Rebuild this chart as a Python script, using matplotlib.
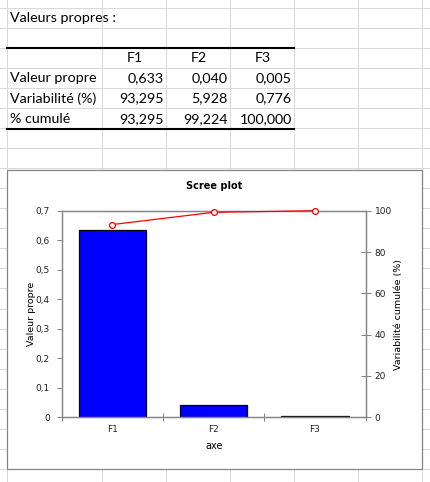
import matplotlib.pyplot as plt
from matplotlib.ticker import FuncFormatter, FixedLocator

# === Data
axes_names = ["F1", "F2", "F3"]
row_names = ["Valeur propre", "Variabilité (%)", "% cumulé"]
valeur_propre = [0.633, 0.040, 0.005]
variabilite = [93.295, 5.928, 0.776]
cumule = [93.295, 99.224, 100.000]

W, H = 431, 482
GRID = "#d9d9d9"
AXIS_GREY = "#868686"
TXT_FONT = ["Lato", "DejaVu Sans"]

def comma(v, nd):
    return f"{v:.{nd}f}".replace(".", ",")

fig = plt.figure(figsize=(W / 100, H / 100), dpi=100)

# background "sheet" in pixel coordinates
bg = fig.add_axes([0, 0, 1, 1])
bg.set_xlim(0, W)
bg.set_ylim(H, 0)
bg.axis("off")

col_x = [7.5, 102.5, 166.5, 230.5, 294.5, 358.5, 422.5]
row_y = [7.5 + 20.07 * k for k in range(24)]
for x in col_x:
    bg.plot([x, x], [0, H], color=GRID, lw=0.75)
for y in row_y:
    bg.plot([0, W], [y, y], color=GRID, lw=0.75)

# table
bg.text(10, 17.5, "Valeurs propres :", fontsize=10.3, family=TXT_FONT, va="center")
bg.plot([7.5, 294.5], [48.3, 48.3], color="black", lw=1.5)
bg.plot([7.5, 294.5], [128.8, 128.8], color="black", lw=1.5)
for j, name in enumerate(axes_names):
    cx = (col_x[j + 1] + col_x[j + 2]) / 2
    bg.text(cx, 58.5, name, fontsize=10.3, family=TXT_FONT, ha="center", va="center")
table_vals = [[comma(v, 3) for v in valeur_propre],
              [comma(v, 3) for v in variabilite],
              [comma(v, 3) for v in cumule]]
for i, name in enumerate(row_names):
    y = 78.5 + 20.1 * i
    bg.text(10, y, name, fontsize=10.3, family=TXT_FONT, va="center")
    for j, s in enumerate(table_vals[i]):
        bg.text(col_x[j + 2] - 2.5, y, s, fontsize=10.3, family=TXT_FONT,
                ha="right", va="center")

# chart box covering the grid
bg.add_patch(plt.Rectangle((7.5, 169.5), 415, 299.5, facecolor="white",
                           edgecolor=AXIS_GREY, lw=0.9, zorder=3))

# === Chart
left, right, top, bottom = 61.7, 365.7, 210.7, 417.3
ax = fig.add_axes([left / W, (H - bottom) / H, (right - left) / W, (bottom - top) / H])
ax.set_zorder(5)
pos = list(range(len(axes_names)))
ax.bar(pos, valeur_propre, width=0.665, color="#0000ff", edgecolor="black", lw=0.9)
ax.set_xlim(-0.5, 2.5)
ax.set_ylim(0, 0.7)
ax.set_yticks([i / 10 for i in range(8)])
ax.yaxis.set_major_formatter(FuncFormatter(lambda v, p: "0" if v == 0 else comma(v, 1)))
ax.set_xticks(pos)
ax.set_xticklabels([])
ax.xaxis.set_minor_locator(FixedLocator([-0.5, 0.5, 1.5, 2.5]))
ax.tick_params(axis="x", which="major", length=0)
ax.tick_params(axis="x", which="minor", direction="inout", length=6, width=0.75, color=AXIS_GREY)
ax.tick_params(axis="y", direction="out", length=3.5, width=0.75, color=AXIS_GREY,
               labelsize=6.5, labelcolor="#222222", pad=5)
for s in ax.spines.values():
    s.set_color(AXIS_GREY)
    s.set_linewidth(0.9)

ax2 = ax.twinx()
ax2.plot(pos, cumule, color="#ff0000", lw=0.9, marker="o", ms=4.2,
         mfc="white", mec="#ff0000", mew=0.9, clip_on=False, zorder=6)
ax2.set_ylim(0, 100)
ax2.set_yticks(range(0, 101, 20))
ax2.tick_params(axis="y", direction="inout", length=7, width=0.75, color=AXIS_GREY,
                labelsize=6.5, labelcolor="#222222", pad=3)
for s in ax2.spines.values():
    s.set_color(AXIS_GREY)
    s.set_linewidth(0.9)

for j, name in enumerate(axes_names):
    xp = left + (right - left) * (j + 0.5) / 3
    fig.text(xp / W, 1 - 430 / H, name, fontsize=6.5, ha="center", va="center", color="#222222")

fig.text(214 / W, 1 - 186 / H, "Scree plot", fontsize=7, fontweight="bold", ha="center", va="center")
fig.text(214 / W, 1 - 446 / H, "axe", fontsize=7, ha="center", va="center")
fig.text(31.7 / W, 1 - 314 / H, "Valeur propre", fontsize=6.8,
         rotation=90, ha="center", va="center")
fig.text(399 / W, 1 - 314 / H, "Variabilité cumulée (%)", fontsize=6.8,
         rotation=90, ha="center", va="center")

fig.savefig("out.png", dpi=100)
